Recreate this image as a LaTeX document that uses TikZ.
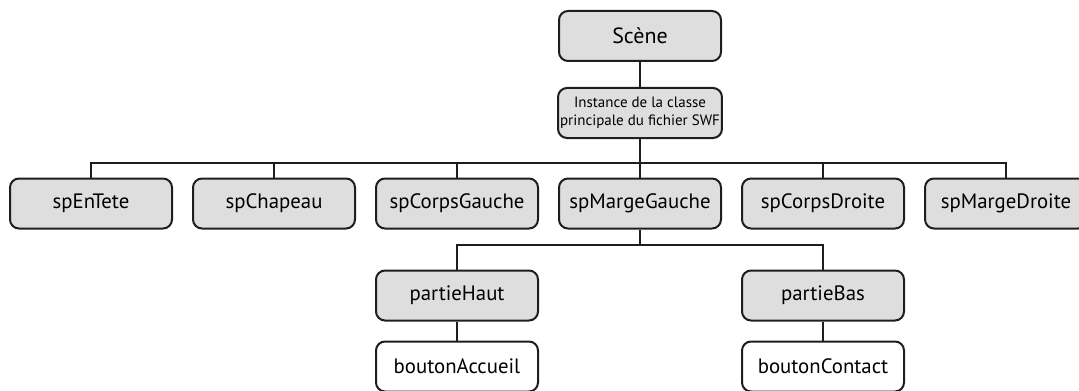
\documentclass[tikz,border=0pt]{standalone}
\usepackage{fontspec}
\setmainfont{PT Sans}
\usetikzlibrary{positioning}
\definecolor{fondgris}{RGB}{222,222,222}
\definecolor{trait}{RGB}{30,30,30}

\begin{document}
\begin{tikzpicture}[x=0.5pt,y=-0.5pt,
    boite/.style={draw=trait, line width=1pt, rounded corners=4.5pt, fill=fondgris,
                  minimum width=81pt, minimum height=25pt, inner sep=1pt,
                  font=\fontsize{10.4}{11}\selectfont},
    bouton/.style={boite, fill=white},
    lien/.style={draw=trait, line width=1pt}]
    \useasboundingbox (0,0) rectangle (1079,390);
    % racine
    \node[boite, font=\fontsize{11}{12}\selectfont] (scene) at (640,36) {Scène};
    \node[boite, below=12.5pt of scene, align=center, font=\fontsize{7.5}{9}\selectfont] (instance)
        {Instance de la classe\\principale du fichier SWF};
    % sprites
    \node[boite] (enTete) at (91,203.5) {spEnTete};
    \node[boite, right=9.5pt of enTete] (chapeau) {spChapeau};
    \node[boite, right=9.5pt of chapeau] (corpsGauche) {spCorpsGauche};
    \node[boite, right=9.5pt of corpsGauche] (margeGauche) {spMargeGauche};
    \node[boite, right=9.5pt of margeGauche] (corpsDroite) {spCorpsDroite};
    \node[boite, right=9.5pt of corpsDroite] (margeDroite) {spMargeDroite};
    % parties de la marge
    \node[boite, below=20pt of corpsGauche] (partieHaut) {partieHaut};
    \node[boite, below=20pt of corpsDroite] (partieBas) {partieBas};
    \node[bouton, below=9.5pt of partieHaut] (accueil) {boutonAccueil};
    \node[bouton, below=9.5pt of partieBas] (contact) {boutonContact};

    \coordinate (barre1) at (640,163);
    \coordinate (barre2) at (640,245);
    \draw[lien] (scene) -- (instance);
    \draw[lien] (instance) -- (instance |- barre1);
    \draw[lien] (enTete.north) |- (barre1) -| (margeDroite.north);
    \foreach \n in {chapeau,corpsGauche,margeGauche,corpsDroite}
        \draw[lien] (\n.north) -- (\n.north |- barre1);
    \draw[lien] (margeGauche) -- (margeGauche |- barre2);
    \draw[lien] (partieHaut.north) |- (barre2) -| (partieBas.north);
    \draw[lien] (partieHaut) -- (accueil);
    \draw[lien] (partieBas) -- (contact);
\end{tikzpicture}
\end{document}
